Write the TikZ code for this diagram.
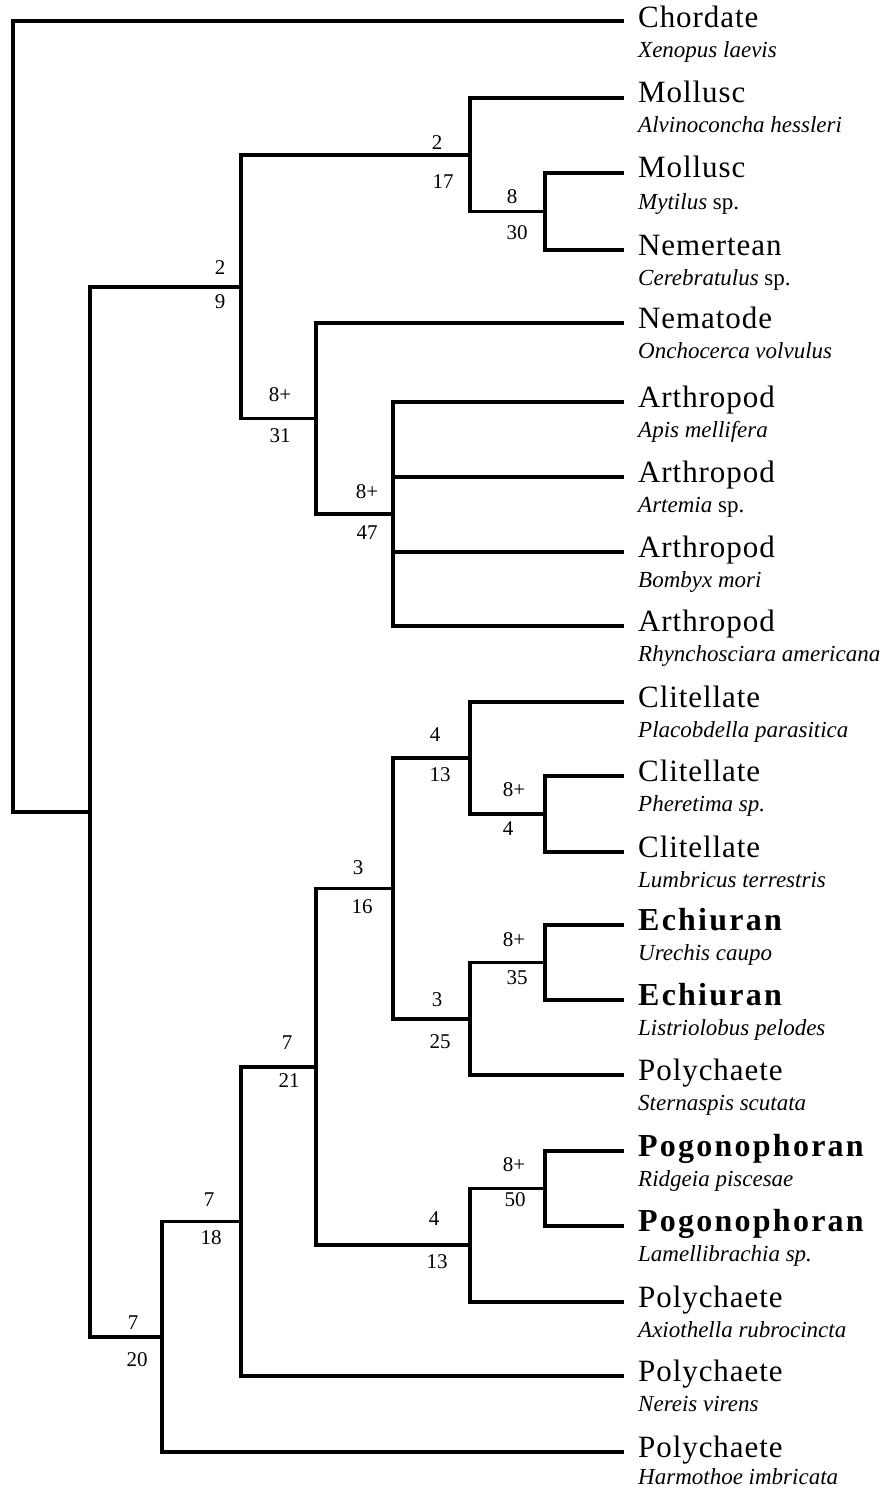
\documentclass[tikz,border=0pt]{standalone}
\usepackage{fontspec}
\setmainfont{Liberation Serif}
\newcommand\lfLab{\fontsize{31}{31}\selectfont\addfontfeature{LetterSpace=3}}
\newcommand\lfBold{\fontsize{32}{32}\selectfont\bfseries\addfontfeature{LetterSpace=7}}
\newcommand\lfSp{\fontsize{23}{23}\selectfont\itshape}
\newcommand\lfNum{\fontsize{21}{21}\selectfont}
\begin{document}
\begin{tikzpicture}[x=1pt,y=-1pt,
  br/.style={line width=3.8pt, line join=miter, line cap=butt},
  lab/.style={font=\lfLab, inner sep=0pt, anchor=base west},
  blab/.style={font=\lfBold, inner sep=0pt, anchor=base west},
  spc/.style={font=\lfSp, inner sep=0pt, anchor=base west},
  num/.style={font=\lfNum, inner sep=0pt, anchor=center}]
\useasboundingbox[fill=white] (0,0) rectangle (880,1490);

% leaf ends
\coordinate (L1) at (624,21);
\coordinate (L2) at (624,98);
\coordinate (L3) at (624,173);
\coordinate (L4) at (624,250);
\coordinate (L5) at (624,323);
\coordinate (L6) at (624,402);
\coordinate (L7) at (624,477);
\coordinate (L8) at (624,552);
\coordinate (L9) at (624,626);
\coordinate (L10) at (624,702);
\coordinate (L11) at (624,776);
\coordinate (L12) at (624,852);
\coordinate (L13) at (624,925);
\coordinate (L14) at (624,1000);
\coordinate (L15) at (624,1075);
\coordinate (L16) at (624,1151);
\coordinate (L17) at (624,1226);
\coordinate (L18) at (624,1302);
\coordinate (L19) at (624,1376);
\coordinate (L20) at (624,1452);

% internal nodes
\coordinate (nA) at (545,211.5);
\coordinate (nB) at (470,154.75);
\coordinate (nC) at (393,514);
\coordinate (nD) at (316,418.5);
\coordinate (nE) at (241,286.6);
\coordinate (nF) at (545,814);
\coordinate (nG) at (470,758);
\coordinate (nH) at (545,962.5);
\coordinate (nI) at (470,1018.75);
\coordinate (nJ) at (393,888.4);
\coordinate (nK) at (545,1188.5);
\coordinate (nM) at (470,1245.25);
\coordinate (nN) at (316,1066.8);
\coordinate (nO) at (241,1221.4);
\coordinate (nP) at (162,1336.7);
\coordinate (nQ) at (90,811.6);
\coordinate (nR) at (13,416.3);

% branches
\draw[br] (nR) |- (L1);
\draw[br] (nR) |- (nQ);
\draw[br] (nQ) |- (nE);
\draw[br] (nQ) |- (nP);
\draw[br] (nE) |- (nB);
\draw[br] (nE) |- (nD);
\draw[br] (nB) |- (L2);
\draw[br] (nB) |- (nA);
\draw[br] (nA) |- (L3);
\draw[br] (nA) |- (L4);
\draw[br] (nD) |- (L5);
\draw[br] (nD) |- (nC);
\draw[br] (nC) |- (L6);
\draw[br] (nC) |- (L7);
\draw[br] (nC) |- (L8);
\draw[br] (nC) |- (L9);
\draw[br] (nP) |- (nO);
\draw[br] (nP) |- (L20);
\draw[br] (nO) |- (nN);
\draw[br] (nO) |- (L19);
\draw[br] (nN) |- (nJ);
\draw[br] (nN) |- (nM);
\draw[br] (nJ) |- (nG);
\draw[br] (nJ) |- (nI);
\draw[br] (nG) |- (L10);
\draw[br] (nG) |- (nF);
\draw[br] (nF) |- (L11);
\draw[br] (nF) |- (L12);
\draw[br] (nI) |- (nH);
\draw[br] (nI) |- (L15);
\draw[br] (nH) |- (L13);
\draw[br] (nH) |- (L14);
\draw[br] (nM) |- (nK);
\draw[br] (nM) |- (L18);
\draw[br] (nK) |- (L16);
\draw[br] (nK) |- (L17);

% branch numbers
\node[num] (bB1) at (437,143) {2};   \node[num] (bB2) at (443,182) {17};
\node[num] (bA1) at (512,197) {8};   \node[num] (bA2) at (517,233) {30};
\node[num] (bE1) at (220,268) {2};   \node[num] (bE2) at (220,302) {9};
\node[num] (bD1) at (280,395) {8+};  \node[num] (bD2) at (280,436) {31};
\node[num] (bC1) at (367,492) {8+};  \node[num] (bC2) at (367,533) {47};
\node[num] (bG1) at (435,735) {4};   \node[num] (bG2) at (440,775) {13};
\node[num] (bF1) at (514,790) {8+};  \node[num] (bF2) at (508,829) {4};
\node[num] (bJ1) at (358,868) {3};   \node[num] (bJ2) at (362,907) {16};
\node[num] (bH1) at (514,940) {8+};  \node[num] (bH2) at (517,978) {35};
\node[num] (bI1) at (437,1000) {3};  \node[num] (bI2) at (440,1042) {25};
\node[num] (bN1) at (287,1043) {7};  \node[num] (bN2) at (289,1081) {21};
\node[num] (bK1) at (514,1165) {8+}; \node[num] (bK2) at (515,1200) {50};
\node[num] (bO1) at (209,1200) {7};  \node[num] (bO2) at (211,1238) {18};
\node[num] (bM1) at (434,1219) {4};  \node[num] (bM2) at (437,1262) {13};
\node[num] (bP1) at (133,1323) {7};  \node[num] (bP2) at (137,1360) {20};

% leaf labels
\node[lab] (T1) at (638,28) {Chordate};        \node[spc] (S1) at (638,58) {Xenopus laevis};
\node[lab] (T2) at (638,103) {Mollusc};        \node[spc] (S2) at (638,133) {Alvinoconcha hessleri};
\node[lab] (T3) at (638,178) {Mollusc};        \node[spc] (S3) at (638,209) {Mytilus {\upshape sp.}};
\node[lab] (T4) at (638,255) {Nemertean};      \node[spc] (S4) at (638,285) {Cerebratulus {\upshape sp.}};
\node[lab] (T5) at (638,328) {Nematode};       \node[spc] (S5) at (638,358) {Onchocerca volvulus};
\node[lab] (T6) at (638,407) {Arthropod};      \node[spc] (S6) at (638,437) {Apis mellifera};
\node[lab] (T7) at (638,482) {Arthropod};      \node[spc] (S7) at (638,512) {Artemia {\upshape sp.}};
\node[lab] (T8) at (638,557) {Arthropod};      \node[spc] (S8) at (638,587) {Bombyx mori};
\node[lab] (T9) at (638,631) {Arthropod};      \node[spc] (S9) at (638,661) {Rhynchosciara americana};
\node[lab] (T10) at (638,707) {Clitellate};    \node[spc] (S10) at (638,737) {Placobdella parasitica};
\node[lab] (T11) at (638,781) {Clitellate};    \node[spc] (S11) at (638,811) {Pheretima sp.};
\node[lab] (T12) at (638,857) {Clitellate};    \node[spc] (S12) at (638,887) {Lumbricus terrestris};
\node[blab] (T13) at (638,930) {Echiuran};     \node[spc] (S13) at (638,960) {Urechis caupo};
\node[blab] (T14) at (638,1005) {Echiuran};    \node[spc] (S14) at (638,1035) {Listriolobus pelodes};
\node[lab] (T15) at (638,1080) {Polychaete};   \node[spc] (S15) at (638,1110) {Sternaspis scutata};
\node[blab] (T16) at (638,1156) {Pogonophoran};\node[spc] (S16) at (638,1186) {Ridgeia piscesae};
\node[blab] (T17) at (638,1231) {Pogonophoran};\node[spc] (S17) at (638,1261) {Lamellibrachia sp.};
\node[lab] (T18) at (638,1307) {Polychaete};   \node[spc] (S18) at (638,1337) {Axiothella rubrocincta};
\node[lab] (T19) at (638,1381) {Polychaete};   \node[spc] (S19) at (638,1411) {Nereis virens};
\node[lab] (T20) at (638,1457) {Polychaete};   \node[spc] (S20) at (638,1484) {Harmothoe imbricata};
\end{tikzpicture}
\end{document}
